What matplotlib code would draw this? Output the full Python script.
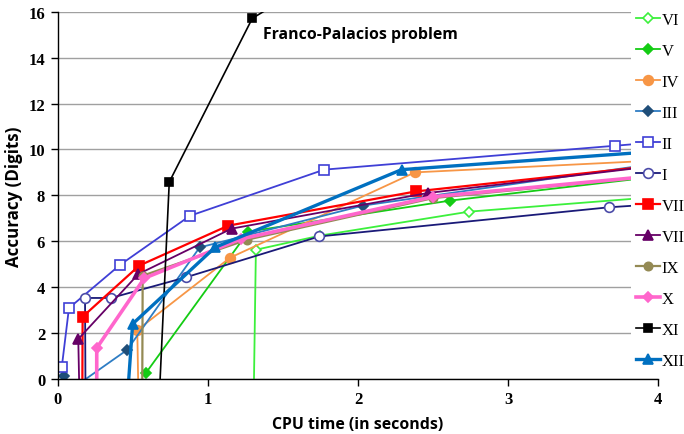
import matplotlib
matplotlib.use("Agg")
import matplotlib.pyplot as plt

# CPU time (s) vs. accuracy (digits) for each method
labels = ["VI", "V", "IV", "III", "II", "I", "VII", "VIII", "IX", "X", "XI", "XII"]

vi_x = [1.305, 1.32, 1.75, 2.74, 4.3]
vi_y = [-1.0, 5.63, 6.25, 7.29, 8.09]

v_x = [0.586, 1.27, 2.612, 4.3]
v_y = [0.25, 6.42, 7.77, 9.05]

iv_x = [0.537, 0.53, 1.147, 2.379, 4.3]
iv_y = [-0.5, 2.13, 5.28, 9.0, 9.62]

iii_x = [0.042, 0.10, 0.463, 0.945, 2.03, 4.3]
iii_y = [0.14, -0.4, 1.27, 5.73, 7.55, 9.68]

ii_x = [0.027, 0.075, 0.415, 0.881, 1.775, 3.71, 4.3]
ii_y = [0.51, 3.09, 4.97, 7.11, 9.12, 10.16, 10.48]

i_x = [0.185, 0.182, 0.355, 0.854, 1.742, 3.672, 4.3]
i_y = [-0.5, 3.53, 3.53, 4.43, 6.21, 7.48, 7.75]

vii_x = [0.164, 0.166, 0.543, 1.136, 2.384, 4.3]
vii_y = [-0.5, 2.71, 4.94, 6.68, 8.17, 9.52]

viii_x = [0.144, 0.137, 0.537, 1.158, 2.463, 4.3]
viii_y = [-0.5, 1.74, 4.57, 6.55, 8.10, 9.53]

ix_x = [0.563, 0.566, 1.262, 2.5, 4.3]
ix_y = [-0.5, 4.50, 6.07, 7.88, 9.04]

x_x = [0.26, 0.26, 0.577, 1.22, 2.5, 4.3]
x_y = [-0.5, 1.35, 4.39, 6.10, 7.94, 9.05]

xi_x = [0.675, 0.743, 1.296, 2.0]
xi_y = [-1.0, 8.58, 15.71, 18.5]

xii_x = [0.47, 0.499, 1.047, 2.29, 4.3]
xii_y = [-0.3, 2.40, 5.73, 9.12, 10.06]

xs = [vi_x, v_x, iv_x, iii_x, ii_x, i_x, vii_x, viii_x, ix_x, x_x, xi_x, xii_x]
ys = [vi_y, v_y, iv_y, iii_y, ii_y, i_y, vii_y, viii_y, ix_y, x_y, xi_y, xii_y]

# line colour, marker, marker face, marker edge, line width, marker size
styles = [
    ("#3CF03C", "D", "white", "#3CF03C", 1.3, 5.5),
    ("#14CC14", "D", "#14CC14", "#14CC14", 1.3, 5.0),
    ("#F79646", "o", "#F79646", "#F79646", 1.3, 7.0),
    ("#2E7DC4", "D", "#1F4E79", "#1F4E79", 1.3, 5.0),
    ("#3F3FD6", "s", "white", "#3F3FD6", 1.3, 7.0),
    ("#1A1A78", "o", "white", "#4B4BA8", 1.3, 7.0),
    ("#FF0000", "s", "#FF0000", "#FF0000", 1.6, 7.0),
    ("#660066", "^", "#660066", "#660066", 1.3, 7.0),
    ("#948A54", "o", "#948A54", "#948A54", 1.6, 6.0),
    ("#FF66CC", "D", "#FF66CC", "#FF66CC", 2.6, 5.5),
    ("#000000", "s", "#000000", "#000000", 1.2, 5.5),
    ("#0070C0", "^", "#0070C0", "#0070C0", 2.4, 7.0),
]

serif = ["Liberation Serif", "DejaVu Serif"]
sans = ["Open Sans", "DejaVu Sans"]

fig = plt.figure(figsize=(6.84, 4.35), dpi=100)
ax = fig.add_axes([57.7 / 684, 55 / 435, (658.3 - 57.7) / 684, (380 - 12.7) / 435])

for lab, x, y, st in zip(labels, xs, ys, styles):
    color, mk, mfc, mec, lw, ms = st
    ax.plot(x, y, color=color, lw=lw, marker=mk, markerfacecolor=mfc,
            markeredgecolor=mec, markeredgewidth=1.2, markersize=ms, label=lab)

ax.set_xlim(0, 4)
ax.set_ylim(0, 16)
ax.set_xticks([0, 1, 2, 3, 4])
ax.set_yticks([0, 2, 4, 6, 8, 10, 12, 14, 16])
ax.yaxis.grid(True, color="#A0A0A0", lw=1.0)
ax.set_axisbelow(True)
for s in ("top", "right"):
    ax.spines[s].set_visible(False)
for s in ("left", "bottom"):
    ax.spines[s].set_color("#000000")
    ax.spines[s].set_linewidth(1.0)
    ax.spines[s].set_zorder(3)
ax.tick_params(axis="both", direction="out", length=5, width=1, color="#000000", pad=4)
for t in ax.get_xticklabels() + ax.get_yticklabels():
    t.set_fontfamily(serif)
    t.set_fontweight("bold")
    t.set_fontsize(12)

ax.set_xlabel("CPU time (in seconds)", fontfamily=sans, fontweight="bold", fontsize=11.4, labelpad=6)
ax.set_ylabel("Accuracy (Digits)", fontfamily=sans, fontweight="bold", fontsize=12.2, labelpad=4)

ax.text(263 / 684, 1 - 35 / 435, "Franco-Palacios problem", transform=fig.transFigure,
        fontfamily=sans, fontweight="bold", fontsize=11.4, va="center", ha="left")

leg = ax.legend(loc="upper left", bbox_to_anchor=(631 / 684, 1 - 8 / 435),
                bbox_transform=fig.transFigure, frameon=True, fancybox=False,
                facecolor="white", edgecolor="white", framealpha=1.0,
                borderaxespad=0, borderpad=0.3, handlelength=1.45,
                handletextpad=0.08, labelspacing=0.9,
                prop={"family": serif, "size": 12})
leg.get_frame().set_linewidth(0)
leg.set_zorder(2.6)

fig.savefig("out.png", dpi=100)
